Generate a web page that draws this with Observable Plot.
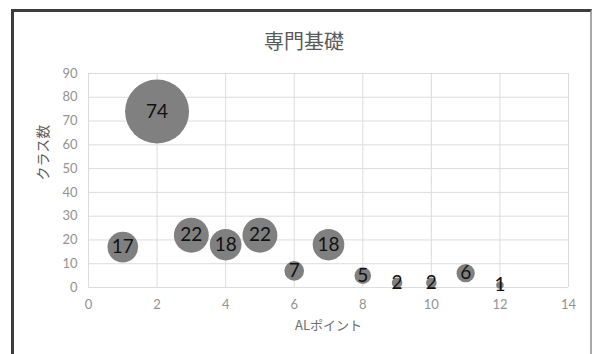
<!DOCTYPE html>
<html>
<head>
<meta charset="utf-8">
<script src="https://cdn.jsdelivr.net/npm/d3@7"></script>
<script src="https://cdn.jsdelivr.net/npm/@observablehq/plot@0.6"></script>
<style>
  html, body { margin: 0; padding: 0; background: #fff; }
  #wrap { position: relative; width: 593px; height: 354px; overflow: hidden; background: #fff; }
  #frame { position: absolute; left: 11px; top: 9px; width: 576px; height: 360px;
           border-left: 3px solid #3c3c3c; border-top: 3px solid #3c3c3c; border-right: 2px solid #a8a8a8; }
  #title { position: absolute; left: 0; width: 608px; top: 26px; text-align: center;
           font-family: "Noto Sans CJK JP", sans-serif; font-size: 20px; color: #595959; }
  #chart { position: absolute; left: 0; top: 0; }
</style>
</head>
<body>
<div id="wrap">
  <div id="frame"></div>
  <div id="chart"></div>
  <div id="title">専門基礎</div>
</div>
<script>
const alPoints    = [1, 2, 3, 4, 5, 6, 7, 8, 9, 10, 11, 12];
const classCounts = [17, 74, 22, 18, 22, 7, 18, 5, 2, 2, 6, 1];
const bubbleSizes = [17, 74, 22, 18, 22, 7, 18, 5, 2, 2, 6, 1];
const xTicks = [0, 2, 4, 6, 8, 10, 12, 14];
const yTicks = [0, 10, 20, 30, 40, 50, 60, 70, 80, 90];

const data = alPoints.map((x, i) => ({x, y: classCounts[i], s: bubbleSizes[i]}));

const chart = Plot.plot({
  width: 593,
  height: 354,
  marginLeft: 88,
  marginRight: 25,
  marginTop: 73,
  marginBottom: 67,
  style: { background: "transparent", fontFamily: "Lato, 'Noto Sans CJK JP', sans-serif", fontSize: "13px", color: "#8a8a8a" },
  x: { domain: [0, 14], ticks: xTicks, label: null },
  y: { domain: [0, 90], ticks: yTicks, label: null },
  r: { domain: [0, 74], range: [0, 32] },
  marks: [
    Plot.gridX(xTicks, { stroke: "#dcdcdc", strokeOpacity: 1 }),
    Plot.gridY(yTicks, { stroke: "#dcdcdc", strokeOpacity: 1 }),
    Plot.axisX({ ticks: xTicks, tickSize: 0, tickPadding: 12, fontSize: 13, fill: "#929292", label: null }),
    Plot.axisY({ ticks: yTicks, tickSize: 0, tickPadding: 11, fontSize: 13, fill: "#929292", label: null }),
    Plot.text(["ALポイント"], { frameAnchor: "bottom", dy: 42, fontSize: 13, fill: "#6e6e6e", fontFamily: "'Noto Sans CJK JP', sans-serif" }),
    Plot.text(["クラス数"], { frameAnchor: "left", dx: -45, rotate: -90, fontSize: 14, fill: "#595959", fontFamily: "'Noto Sans CJK JP', sans-serif" }),
    Plot.dot(data, { x: "x", y: "y", r: "s", fill: "#808080", stroke: "none" }),
    Plot.text(data, { x: "x", y: "y", text: d => String(d.y), fill: "#111", fontSize: 19, fontFamily: "Lato, sans-serif" })
  ]
});
document.getElementById("chart").appendChild(chart);
</script>
</body>
</html>
